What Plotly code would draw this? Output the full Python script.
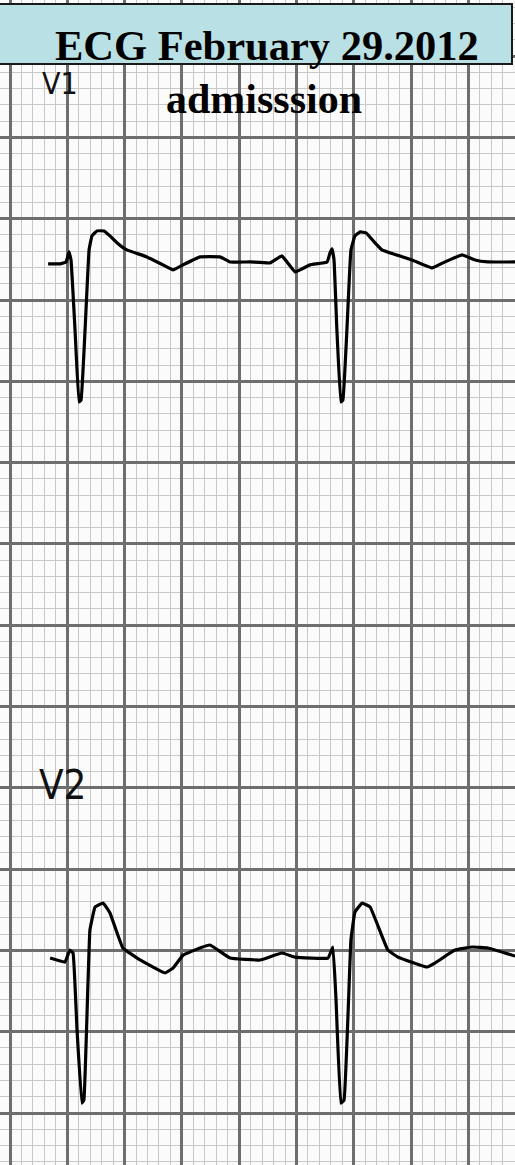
import plotly.graph_objects as go

# ---- data (time in s, amplitude in mV; ECG paper 0.2 s / 0.5 mV per large box) ----
title_text = "ECG February 29.2012"
subtitle_text = "admisssion"
lead_names = ["V1", "V2"]
lead_baselines = [5.228, 0.953]   # mV position of each lead's isoelectric line on the paper

v1_t = [0.133, 0.175, 0.196, 0.206, 0.213, 0.227, 0.241, 0.248, 0.262, 0.276, 0.286, 0.304,
        0.328, 0.349, 0.374, 0.408, 0.478, 0.534, 0.569, 0.604, 0.663, 0.733, 0.768, 0.838,
        0.908, 0.949, 0.995, 1.047, 1.107, 1.117, 1.124, 1.131, 1.141, 1.155, 1.162, 1.176,
        1.190, 1.204, 1.222, 1.243, 1.271, 1.298, 1.403, 1.473, 1.518, 1.578, 1.623, 1.668, 1.763]
v1_mv = [-0.006, -0.006, 0.006, 0.068, 0.018, -0.412, -0.855, -0.843, -0.412, 0.080, 0.166, 0.197,
         0.197, 0.166, 0.123, 0.080, 0.037, -0.012, -0.043, -0.012, 0.037, 0.037, 0.006, 0.006,
         0.000, 0.043, -0.055, -0.012, 0.006, 0.062, 0.086, 0.018, -0.412, -0.855, -0.843, -0.412,
         0.080, 0.166, 0.191, 0.185, 0.129, 0.080, 0.018, -0.031, 0.006, 0.049, 0.018, 0.006, 0.006]

v2_t = [0.140, 0.175, 0.192, 0.209, 0.220, 0.234, 0.251, 0.258, 0.279, 0.297, 0.325, 0.349,
        0.394, 0.454, 0.541, 0.569, 0.604, 0.663, 0.698, 0.768, 0.873, 0.949, 0.995, 1.110,
        1.127, 1.138, 1.155, 1.166, 1.190, 1.204, 1.229, 1.257, 1.319, 1.354, 1.456, 1.483,
        1.553, 1.613, 1.668, 1.763]
v2_mv = [0.000, -0.018, -0.025, 0.049, 0.031, -0.443, -0.892, -0.873, 0.172, 0.314, 0.338, 0.277,
         0.062, -0.012, -0.092, -0.062, 0.018, 0.062, 0.080, 0.000, -0.012, 0.031, 0.006, 0.000,
         0.068, -0.258, -0.892, -0.873, 0.111, 0.283, 0.338, 0.314, 0.049, 0.006, -0.055, -0.031,
         0.049, 0.068, 0.062, 0.012]

W, H = 515, 1165
x_range = [-0.0349, 1.7627]
y_range = [-0.3198, 6.845]

fig = go.Figure()
for name, base, t, mv in [("V1", lead_baselines[0], v1_t, v1_mv),
                          ("V2", lead_baselines[1], v2_t, v2_mv)]:
    fig.add_trace(go.Scatter(x=t, y=[base + v for v in mv], mode="lines", name=name,
                             line=dict(color="#000000", width=3.2, shape="spline", smoothing=0.25),
                             hoverinfo="skip", showlegend=False))

grid_major = "#6e6e6e"
grid_minor = "#c8c8c8"
fig.update_xaxes(range=x_range, tick0=0, dtick=0.2, showgrid=True, gridcolor=grid_major,
                 gridwidth=2.5, zeroline=False, showticklabels=False, ticks="", showline=False,
                 minor=dict(tick0=0, dtick=0.04, showgrid=True, gridcolor=grid_minor, gridwidth=1.2),
                 fixedrange=True)
fig.update_yaxes(range=y_range, tick0=0, dtick=0.5, showgrid=True, gridcolor=grid_major,
                 gridwidth=2.5, zeroline=False, showticklabels=False, ticks="", showline=False,
                 minor=dict(tick0=0, dtick=0.1, showgrid=True, gridcolor=grid_minor, gridwidth=1.2),
                 fixedrange=True)

def px_x(p):
    return p / W

def px_y(p):
    return 1 - p / H

# header band
fig.add_shape(type="rect", xref="paper", yref="paper", x0=px_x(-3), x1=px_x(512),
              y0=px_y(64), y1=px_y(4), fillcolor="#b9e0e4",
              line=dict(color="#1a1a1a", width=2), layer="above")

fig.add_annotation(text="<b>" + title_text + "</b>", xref="paper", yref="paper",
                   x=px_x(266.5), y=px_y(45.5), xanchor="center", yanchor="middle",
                   showarrow=False, font=dict(family="Liberation Serif, Times New Roman, serif",
                                              size=42.5, color="#000000"))
fig.add_annotation(text="<b>" + subtitle_text + "</b>", xref="paper", yref="paper",
                   x=px_x(263.5), y=px_y(99), xanchor="center", yanchor="middle",
                   showarrow=False, font=dict(family="Liberation Serif, Times New Roman, serif",
                                              size=42, color="#000000"))

label_font = "DejaVu Sans Condensed, Liberation Sans Narrow, Arial Narrow, sans-serif"
fig.add_annotation(text=lead_names[0], xref="paper", yref="paper",
                   x=px_x(60), y=px_y(84), xanchor="center", yanchor="middle", showarrow=False,
                   font=dict(family=label_font, size=30, color="#111111"))
fig.add_annotation(text=lead_names[1], xref="paper", yref="paper",
                   x=px_x(63), y=px_y(785), xanchor="center", yanchor="middle", showarrow=False,
                   font=dict(family=label_font, size=40, color="#111111"))

fig.update_layout(width=W, height=H, margin=dict(l=0, r=0, t=0, b=0),
                  paper_bgcolor="#ffffff", plot_bgcolor="#fbfbfb", showlegend=False)

fig.write_html("out.html", config={"displayModeBar": False},
               post_script="document.body.style.margin='0';document.body.style.padding='0';"
                           "document.body.style.overflow='hidden';")
